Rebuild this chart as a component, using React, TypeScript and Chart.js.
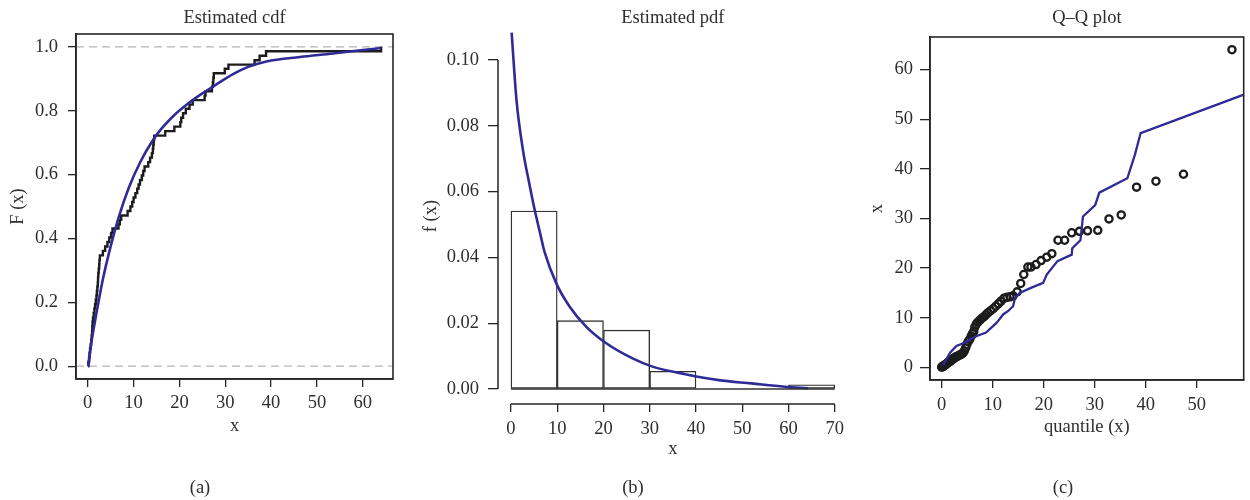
import React, { useEffect, useRef } from 'react';
import { Chart, registerables } from 'chart.js';

Chart.register(...registerables);

const FONT = '"Liberation Serif", "Times New Roman", serif';
const FSIZE = 18.5;
const TEXT = '#2e2e2e';
const AXIS = '#262626';
const BLUE = '#2e2a96';
const DARK = '#1c1c1c';

// ---------- Panel (a): Estimated cdf ----------
const cdfTitle = 'Estimated cdf';
const cdfXTicks = [0, 10, 20, 30, 40, 50, 60];
const cdfYTicks = [0, 0.2, 0.4, 0.6, 0.8, 1.0];
const cdfRefLevels = [0, 1];
const ecdfX = [0.1, 0.15, 0.3, 0.4, 0.5, 0.65, 0.75, 0.85, 0.95, 1.0, 1.05, 1.15, 1.3, 1.45, 1.6, 1.75, 1.9, 2.0, 2.1, 2.2, 2.25, 2.3, 2.4, 2.5, 2.55, 2.65, 3.3, 3.8, 4.3, 4.7, 5.1, 5.4, 6.7, 7.0, 7.3, 8.7, 9.3, 9.7, 10.0, 10.4, 10.8, 11.1, 11.4, 11.8, 12.1, 12.4, 13.2, 13.6, 14.0, 14.2, 14.3, 14.4, 14.5, 16.9, 18.9, 20.2, 20.4, 20.8, 21.4, 22.2, 22.9, 25.5, 25.7, 27.1, 27.3, 27.4, 27.5, 29.9, 30.7, 36.4, 37.5, 38.9, 64.0];
const ecdfF = [0.0, 0.014, 0.028, 0.042, 0.056, 0.069, 0.083, 0.097, 0.111, 0.125, 0.139, 0.153, 0.167, 0.181, 0.194, 0.208, 0.222, 0.236, 0.25, 0.264, 0.278, 0.292, 0.306, 0.319, 0.333, 0.347, 0.361, 0.375, 0.389, 0.403, 0.417, 0.431, 0.444, 0.458, 0.472, 0.486, 0.5, 0.514, 0.528, 0.542, 0.556, 0.569, 0.583, 0.597, 0.611, 0.625, 0.639, 0.653, 0.667, 0.681, 0.694, 0.708, 0.722, 0.736, 0.75, 0.764, 0.778, 0.792, 0.806, 0.819, 0.833, 0.847, 0.861, 0.875, 0.889, 0.903, 0.917, 0.931, 0.944, 0.958, 0.972, 0.986, 1.0];
const fitCdfX = [0.1, 0.8, 1.7, 3.2, 5.0, 6.8, 9.0, 11.5, 14.1, 16.0, 18.8, 21.7, 24.6, 27.5, 31.8, 35.0, 39.0, 46.3, 53.5, 60.0, 64.0];
const fitCdfF = [0.0, 0.075, 0.15, 0.265, 0.375, 0.468, 0.56, 0.64, 0.705, 0.742, 0.785, 0.82, 0.85, 0.877, 0.915, 0.937, 0.954, 0.968, 0.979, 0.99, 0.996];

// ---------- Panel (b): Estimated pdf ----------
const pdfTitle = 'Estimated pdf';
const binEdges = [0, 10, 20, 30, 40, 50, 60, 70];
const binDensity = [0.0541, 0.0208, 0.0179, 0.0054, 0, 0, 0.0013];
const pdfXTicks = [0, 10, 20, 30, 40, 50, 60, 70];
const pdfYTicks = [0, 0.02, 0.04, 0.06, 0.08, 0.1];
const pdfX = [0.15, 1.2, 2.6, 4.1, 5.2, 6.2, 7.3, 9.8, 12.7, 16.3, 20.6, 26.3, 30.6, 37.7, 44.9, 52.0, 59.2, 64.2];
const pdfY = [0.1083, 0.0878, 0.0726, 0.0615, 0.054, 0.048, 0.0415, 0.0321, 0.025, 0.0189, 0.0139, 0.0093, 0.0068, 0.0045, 0.0027, 0.0017, 0.0007, 0.0002];

// ---------- Panel (c): Q–Q plot ----------
const qqTitle = 'Q\u2013Q plot';
const qqXTicks = [0, 10, 20, 30, 40, 50];
const qqYTicks = [0, 10, 20, 30, 40, 50, 60];
const qqTheo = [0.0, 0.1, 0.2, 0.3, 0.4, 0.55, 0.7, 0.85, 1.0, 1.15, 1.3, 1.5, 1.65, 1.8, 2.0, 2.2, 2.4, 2.6, 2.8, 3.0, 3.2, 3.45, 3.7, 3.95, 4.2, 4.45, 4.7, 4.95, 5.2, 5.5, 5.8, 6.05, 6.3, 6.5, 6.8, 7.1, 7.5, 7.9, 8.3, 8.7, 9.1, 9.6, 10.1, 10.6, 11.1, 11.6, 12.2, 12.8, 13.4, 14.0, 14.8, 15.5, 16.1, 16.9, 17.5, 18.5, 19.5, 20.6, 21.6, 22.8, 24.1, 25.5, 27.0, 28.6, 30.6, 32.8, 35.2, 38.2, 42.0, 47.4, 56.9];
const qqSample = [0.05, 0.1, 0.15, 0.2, 0.3, 0.4, 0.5, 0.6, 0.75, 0.9, 1.0, 1.1, 1.2, 1.35, 1.5, 1.65, 1.8, 1.95, 2.1, 2.2, 2.3, 2.45, 2.55, 2.7, 2.9, 3.3, 3.9, 4.6, 5.2, 5.6, 6.3, 6.8, 7.2, 8.1, 8.7, 9.1, 9.5, 9.9, 10.2, 10.6, 11.0, 11.4, 11.8, 12.3, 12.8, 13.3, 13.9, 14.1, 14.2, 14.4, 15.2, 16.9, 18.7, 20.2, 20.2, 20.7, 21.5, 22.2, 22.9, 25.6, 25.6, 27.1, 27.4, 27.5, 27.6, 29.9, 30.7, 36.3, 37.5, 38.9, 64.0];
const qqLineX = [0.3, 1.7, 2.9, 4.6, 5.7, 6.9, 8.7, 10.8, 12.1, 13.0, 14.0, 14.4, 15.3, 17.5, 19.9, 20.6, 22.7, 25.5, 25.6, 27.2, 27.7, 30.1, 30.9, 36.4, 37.9, 39.0, 59.1];
const qqLineY = [0.5, 3.0, 4.3, 5.0, 5.7, 6.3, 7.0, 9.0, 10.7, 11.3, 12.3, 14.0, 15.0, 16.0, 17.0, 18.7, 21.4, 22.7, 24.0, 25.6, 30.4, 32.7, 35.2, 38.1, 42.9, 47.2, 54.9];

const panelLabels = ['(a)', '(b)', '(c)'];

const pts = (xs: number[], ys: number[]) => xs.map((x, i) => ({ x, y: ys[i] }));

type AxisOpts = {
  min: number; max: number; ticks: number[]; fmt: (v: number) => string;
  width?: number; height?: number; title: string; titlePad: any; tickPad: number;
  tickLen: number; border: boolean;
};

function axis(o: AxisOpts) {
  return {
    type: 'linear',
    min: o.min,
    max: o.max,
    offset: false,
    afterBuildTicks: (s: any) => { s.ticks = o.ticks.map((v) => ({ value: v })); },
    afterFit: (s: any) => {
      if (o.width != null) s.width = o.width;
      if (o.height != null) s.height = o.height;
    },
    ticks: {
      callback: (v: any) => o.fmt(Number(v)),
      font: { family: FONT, size: FSIZE },
      color: TEXT,
      padding: o.tickPad,
      maxRotation: 0,
      minRotation: 0,
      autoSkip: false,
    },
    grid: { drawOnChartArea: false, drawTicks: true, tickLength: o.tickLen, color: AXIS, lineWidth: 1.3, offset: false },
    border: { display: o.border, color: AXIS, width: 1.6 },
    title: { display: true, text: o.title, font: { family: FONT, size: FSIZE }, color: TEXT, padding: o.titlePad },
  };
}

const titlePlugin = (text: string) => ({
  id: 'panelTitle',
  afterDraw(chart: any) {
    const { ctx, chartArea: a } = chart;
    ctx.save();
    ctx.font = `${FSIZE}px ${FONT}`;
    ctx.fillStyle = TEXT;
    ctx.textAlign = 'center';
    ctx.textBaseline = 'middle';
    ctx.fillText(text, (a.left + a.right) / 2, 18);
    ctx.restore();
  },
});

const framePlugin = {
  id: 'frame',
  afterDatasetsDraw(chart: any) {
    const { ctx, chartArea: a } = chart;
    ctx.save();
    ctx.strokeStyle = AXIS;
    ctx.lineWidth = 1.6;
    ctx.strokeRect(a.left, a.top, a.right - a.left, a.bottom - a.top);
    ctx.restore();
  },
};

const refLinesPlugin = (levels: number[]) => ({
  id: 'refLines',
  beforeDatasetsDraw(chart: any) {
    const { ctx, chartArea: a, scales } = chart;
    ctx.save();
    ctx.strokeStyle = '#b4b4b4';
    ctx.lineWidth = 1.2;
    ctx.setLineDash([8, 5]);
    levels.forEach((lv) => {
      const y = scales.y.getPixelForValue(lv);
      ctx.beginPath();
      ctx.moveTo(a.left, y);
      ctx.lineTo(a.right, y);
      ctx.stroke();
    });
    ctx.restore();
  },
});

const rAxesPlugin = {
  id: 'rAxes',
  afterDatasetsDraw(chart: any) {
    const { ctx, chartArea: a, scales } = chart;
    const x = scales.x, y = scales.y;
    ctx.save();
    ctx.strokeStyle = AXIS;
    ctx.lineWidth = 1.5;
    ctx.beginPath();
    ctx.moveTo(a.left, y.getPixelForValue(pdfYTicks[0]));
    ctx.lineTo(a.left, y.getPixelForValue(pdfYTicks[pdfYTicks.length - 1]));
    ctx.moveTo(x.getPixelForValue(pdfXTicks[0]), a.bottom);
    ctx.lineTo(x.getPixelForValue(pdfXTicks[pdfXTicks.length - 1]), a.bottom);
    ctx.stroke();
    ctx.strokeStyle = '#333333';
    ctx.lineWidth = 1.3;
    ctx.beginPath();
    const y0 = y.getPixelForValue(0);
    ctx.moveTo(x.getPixelForValue(binEdges[0]), y0);
    ctx.lineTo(x.getPixelForValue(binEdges[binEdges.length - 1]), y0);
    ctx.stroke();
    ctx.restore();
  },
};

const baseOptions = (padding: any, scales: any) => ({
  responsive: false,
  animation: false,
  devicePixelRatio: 1,
  events: [],
  layout: { padding },
  plugins: { legend: { display: false }, tooltip: { enabled: false }, title: { display: false } },
  scales,
});

export default function App() {
  const aRef = useRef<HTMLCanvasElement>(null);
  const bRef = useRef<HTMLCanvasElement>(null);
  const cRef = useRef<HTMLCanvasElement>(null);

  useEffect(() => {
    const charts: Chart[] = [];

    // Panel (a)
    charts.push(new Chart(aRef.current!, {
      type: 'line',
      data: {
        datasets: [
          { data: pts(fitCdfX, fitCdfF), borderColor: BLUE, borderWidth: 2.6, pointRadius: 0, cubicInterpolationMode: 'monotone', fill: false } as any,
          { data: pts(ecdfX, ecdfF), borderColor: DARK, borderWidth: 2.4, pointRadius: 0, stepped: 'before', fill: false } as any,
        ],
      },
      options: baseOptions({ left: 0, right: 27, top: 34, bottom: 63 }, {
        x: axis({ min: -2.56, max: 66.6, ticks: cdfXTicks, fmt: (v) => String(v), height: 58, title: 'x', titlePad: { top: 0, bottom: 0 }, tickPad: 5, tickLen: 8, border: true }),
        y: axis({ min: -0.04, max: 1.04, ticks: cdfYTicks, fmt: (v) => v.toFixed(1), width: 76, title: 'F (x)', titlePad: { top: 7, bottom: 0 }, tickPad: 10, tickLen: 8, border: true }),
      }) as any,
      plugins: [refLinesPlugin(cdfRefLevels), framePlugin, titlePlugin(cdfTitle)],
    }));

    // Panel (b)
    charts.push(new Chart(bRef.current!, {
      type: 'line',
      data: {
        datasets: [
          { type: 'line', data: pts(pdfX, pdfY), borderColor: BLUE, borderWidth: 2.6, pointRadius: 0, cubicInterpolationMode: 'monotone', fill: false, order: 0 } as any,
          {
            type: 'bar',
            data: binDensity.map((d, i) => ({ x: (binEdges[i] + binEdges[i + 1]) / 2, y: d })),
            backgroundColor: '#ffffff',
            borderColor: '#333333',
            borderWidth: 1.4,
            borderSkipped: false,
            barPercentage: 1,
            categoryPercentage: 1,
            order: 1,
          } as any,
        ],
      },
      options: baseOptions({ left: 0, right: 0, top: 28, bottom: 40 }, {
        x: axis({ min: -2.8, max: 72.8, ticks: pdfXTicks, fmt: (v) => String(v), height: 56, title: 'x', titlePad: { top: 0, bottom: 0 }, tickPad: 6, tickLen: 8, border: false }),
        y: axis({ min: -0.00456, max: 0.10973, ticks: pdfYTicks, fmt: (v) => v.toFixed(2), width: 78, title: 'f (x)', titlePad: { top: 0, bottom: 0 }, tickPad: 9, tickLen: 10, border: false }),
      }) as any,
      plugins: [rAxesPlugin, titlePlugin(pdfTitle)],
    }));

    // Panel (c)
    charts.push(new Chart(cRef.current!, {
      type: 'line',
      data: {
        datasets: [
          { data: pts(qqLineX, qqLineY), borderColor: BLUE, borderWidth: 2.3, pointRadius: 0, tension: 0, fill: false } as any,
          {
            data: pts(qqTheo, qqSample),
            showLine: false,
            pointRadius: 3.6,
            pointBorderWidth: 2.3,
            pointBorderColor: DARK,
            pointBackgroundColor: 'rgba(0,0,0,0)',
            borderColor: DARK,
          } as any,
        ],
      },
      options: baseOptions({ left: 0, right: 3, top: 37, bottom: 62 }, {
        x: axis({ min: -2.28, max: 59.2, ticks: qqXTicks, fmt: (v) => String(v), height: 58, title: 'quantile (x)', titlePad: { top: 0, bottom: 0 }, tickPad: 6, tickLen: 8, border: true }),
        y: axis({ min: -2.56, max: 66.56, ticks: qqYTicks, fmt: (v) => String(v), width: 80, title: 'x', titlePad: { top: 16, bottom: 0 }, tickPad: 7, tickLen: 10, border: true }),
      }) as any,
      plugins: [framePlugin, titlePlugin(qqTitle)],
    }));

    return () => charts.forEach((c) => c.destroy());
  }, []);

  const labelStyle = (cx: number): React.CSSProperties => ({
    position: 'absolute', left: cx - 50, top: 476, width: 100, textAlign: 'center',
    fontFamily: FONT, fontSize: FSIZE, lineHeight: '22px', color: TEXT,
  });

  return (
    <div style={{ position: 'absolute', left: 0, top: 0, width: 1250, height: 500, background: '#ffffff', overflow: 'hidden' }}>
      <canvas ref={aRef} width={420} height={500} style={{ position: 'absolute', left: 0, top: 0 }} />
      <canvas ref={bRef} width={430} height={500} style={{ position: 'absolute', left: 420, top: 0 }} />
      <canvas ref={cRef} width={400} height={500} style={{ position: 'absolute', left: 850, top: 0 }} />
      <div style={labelStyle(200)}>{panelLabels[0]}</div>
      <div style={labelStyle(633)}>{panelLabels[1]}</div>
      <div style={labelStyle(1063)}>{panelLabels[2]}</div>
    </div>
  );
}
